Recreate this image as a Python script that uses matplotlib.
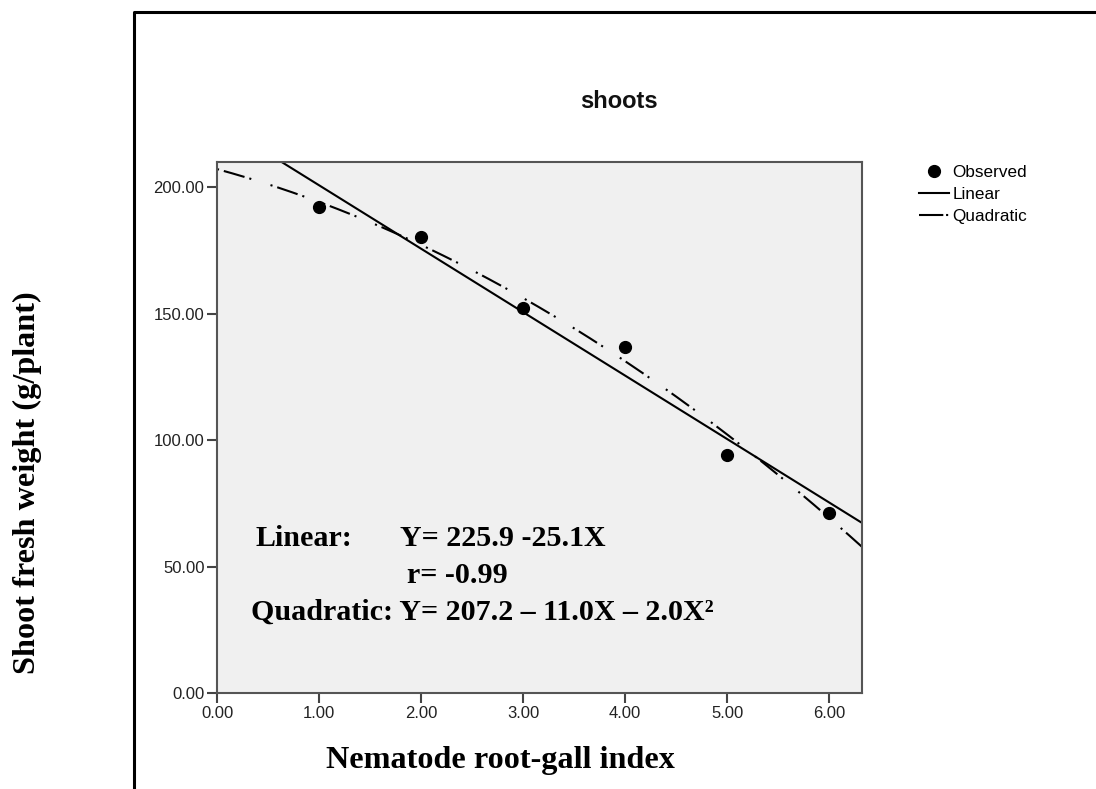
import numpy as np
import matplotlib
matplotlib.use("Agg")
import matplotlib.pyplot as plt
from matplotlib.lines import Line2D

gall_index = [1, 2, 3, 4, 5, 6]
shoot_weight = [192.4, 180.2, 152.3, 136.9, 94.3, 71.2]

# fitted curves as printed on the chart
lin_coef = [225.9, -25.1]          # a + bX
quad_coef = [207.2, -11.0, -2.0]   # a + bX + cX^2

x_ticks = [0, 1, 2, 3, 4, 5, 6]
y_ticks = [0, 50, 100, 150, 200]

plt.rcParams['lines.scale_dashes'] = False
sans = ['Liberation Sans', 'DejaVu Sans']
serif = ['Liberation Serif', 'DejaVu Serif']

fig = plt.figure(figsize=(10.96, 7.89), dpi=100)
ax = fig.add_axes([217 / 1096, 1 - 693 / 789, 645 / 1096, 531 / 789])
ax.set_facecolor('#f0f0f0')

xs = np.linspace(0, 6.32, 300)
y_lin = lin_coef[0] + lin_coef[1] * xs
y_quad = quad_coef[0] + quad_coef[1] * xs + quad_coef[2] * xs ** 2

dashdot = (0, (1.5, 3.6, 15.5, 3.6, 1.5, 14.5))
ax.plot(xs, y_lin, color='black', lw=1.5, zorder=2)
ax.plot(xs, y_quad, color='black', lw=1.5, linestyle=dashdot, zorder=2)
ax.plot(gall_index, shoot_weight, 'o', color='black', ms=8.5, zorder=3)

ax.set_xlim(0, 6.32)
ax.set_ylim(0, 210)
ax.set_xticks(x_ticks)
ax.set_yticks(y_ticks)
ax.set_xticklabels([f'{v:.2f}' for v in x_ticks], fontfamily=sans, fontsize=12, color='#222222')
ax.set_yticklabels([f'{v:.2f}' for v in y_ticks], fontfamily=sans, fontsize=12, color='#222222')
ax.tick_params(direction='out', length=7, width=1.5, color='#444444', pad=2,
               top=False, right=False)
for s in ax.spines.values():
    s.set_color('#555555')
    s.set_linewidth(1.5)

# equations
eq_font = dict(fontfamily=serif, fontweight='bold', fontsize=21.6, color='black')
fig.text(256 / 1096, 1 - 546 / 789, 'Linear:', va='baseline', **eq_font)
fig.text(400 / 1096, 1 - 546 / 789, 'Y= 225.9 -25.1X', va='baseline', **eq_font)
fig.text(407 / 1096, 1 - 583 / 789, 'r= -0.99', va='baseline', **eq_font)
fig.text(251 / 1096, 1 - 620 / 789, 'Quadratic: Y= 207.2 \u2013 11.0X \u2013 2.0X\u00b2',
         va='baseline', **eq_font)

# titles / labels
fig.text(619 / 1096, 1 - 108 / 789, 'shoots', ha='center', va='baseline',
         fontfamily=sans, fontweight='bold', fontsize=17, color='#111111')
fig.text(500 / 1096, 1 - 768 / 789, 'Nematode root-gall index', ha='center', va='baseline',
         fontfamily=serif, fontweight='bold', fontsize=23.2)
fig.text(27 / 1096, 1 - 483 / 789, 'Shoot fresh weight (g/plant)', ha='center', va='center',
         rotation=90, fontfamily=serif, fontweight='bold', fontsize=23.2)

# legend
handles = [
    Line2D([], [], marker='o', color='black', linestyle='none', ms=8.5),
    Line2D([], [], color='black', lw=1.5),
    Line2D([], [], color='black', lw=1.5, linestyle=(0, (17.5, 2, 1.5, 4))),
]
fig.legend(handles, ['Observed', 'Linear', 'Quadratic'], loc='upper left',
           bbox_to_anchor=(919 / 1096, 1 - 165 / 789), frameon=False,
           prop={'family': sans, 'size': 12.3}, handlelength=1.75, handletextpad=0.2,
           labelspacing=0.42, borderaxespad=0, borderpad=0)

# outer frame
fig.add_artist(Line2D([134 / 1096, 134 / 1096, 1], [0, 1 - 11.5 / 789, 1 - 11.5 / 789],
                      transform=fig.transFigure, color='black', lw=2.2))

fig.savefig('out.png', dpi=100)
